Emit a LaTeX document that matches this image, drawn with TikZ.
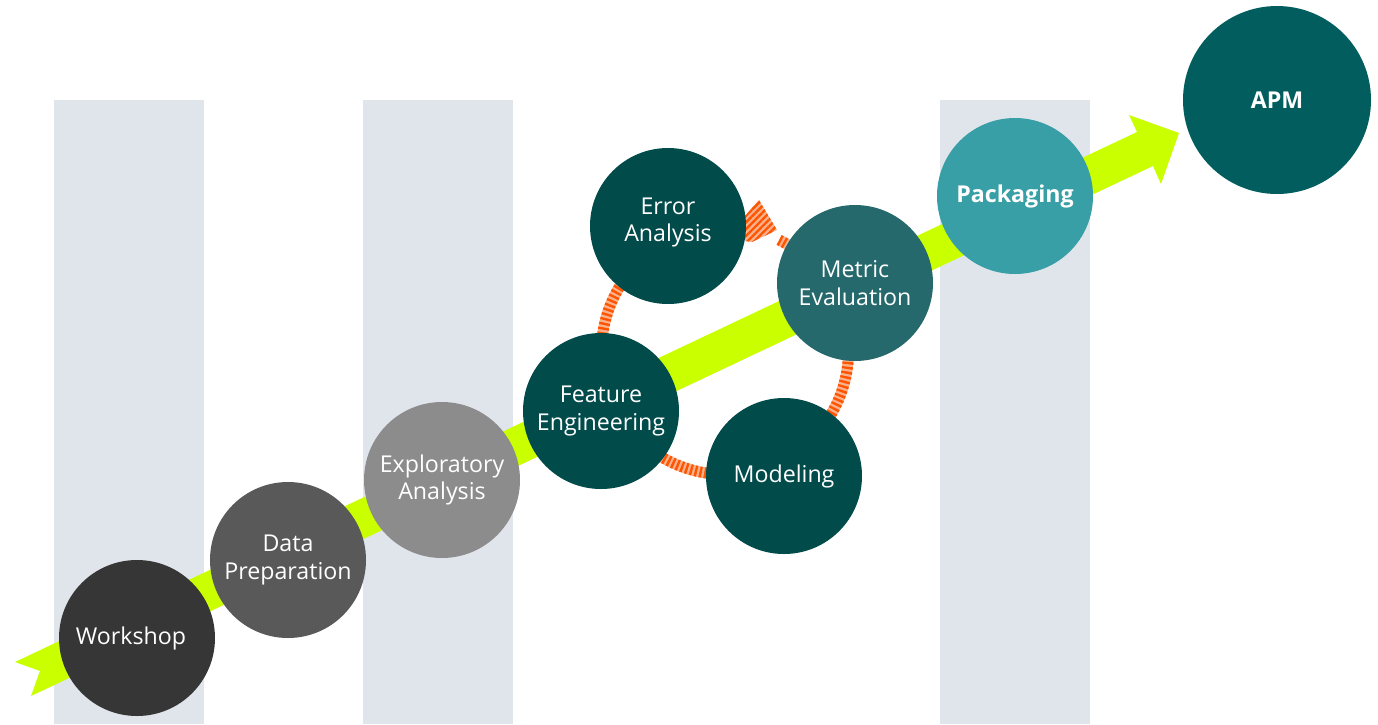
\documentclass[tikz,border=0pt]{standalone}
\usepackage{fontspec}
\setmainfont{Open Sans}
\usepackage{tikz}
\usetikzlibrary{patterns.meta,positioning}
\definecolor{lane}{RGB}{224,229,236}
\definecolor{trend}{RGB}{202,255,0}
\definecolor{coal}{RGB}{54,54,54}
\definecolor{slate}{RGB}{89,89,89}
\definecolor{ash}{RGB}{140,140,140}
\definecolor{deepteal}{RGB}{2,75,75}
\definecolor{midteal}{RGB}{38,105,108}
\definecolor{lightteal}{RGB}{55,159,165}
\definecolor{apmteal}{RGB}{2,94,94}
\definecolor{hatchdark}{RGB}{255,85,0}
\definecolor{hatchlight}{RGB}{250,178,142}

\begin{document}
\begin{tikzpicture}[x=0.5pt,y=-0.5pt,
    stage/.style={circle,minimum size=78pt,inner sep=0pt,text=white,
      align=center,font=\fontsize{11.6}{13.6}\selectfont},
    loopband/.style={line width=5.5pt}]
      \useasboundingbox (0,0) rectangle (1378,724);
      % swim lanes
      \foreach \x in {54,363,940}{
        \fill[lane](\x,100) rectangle ++(150,624);}
      % trend arrow
      \fill[trend](15,662)--(40,671)--(31,696)--(1153,166)--(1161,184)
        --(1179,133)--(1129,115)--(1137,132)--cycle;
      % iteration loop
      \coordinate (hub) at (725,351);
      \draw[loopband,hatchlight] plot[domain=-64:283,samples=160]
        ({725+123.5*cos(\x)},{351+123.5*sin(\x)});
      \draw[loopband,hatchdark,dash pattern=on 1.2pt off 1.2pt] plot[domain=-64:283,samples=160]
        ({725+123.5*cos(\x)},{351+123.5*sin(\x)});
      \path[fill=hatchlight,postaction={pattern={Lines[angle=45,distance=2.4pt,line width=1.2pt]},
        pattern color=hatchdark}]
        (745,216)--(759,200)--(777,230)--(752,242)--(745,241)--cycle;
      % stages
      \node[stage,fill=coal] (workshop) at (137,638){Workshop\kern6pt};
      \node[stage,fill=slate] (dataprep) at (288,560){Data\\Preparation};
      \node[stage,fill=ash] (explore) at (442,480){Exploratory\\Analysis};
      \node[stage,fill=deepteal] (feature) at (601,411){Feature\\Engineering};
      \node[stage,fill=deepteal] (error) at (668,226){Error\\Analysis\\[-7.6pt]};
      \node[stage,fill=midteal] (metric) at (855,283){Metric\\Evaluation};
      \node[stage,fill=deepteal] (modeling) at (784,476){Modeling};
      \node[stage,fill=lightteal,font=\fontsize{11.6}{13.6}\selectfont\bfseries] (packaging) at (1015,196){Packaging};
      \node[stage,fill=apmteal,minimum size=94pt,font=\fontsize{11.6}{13.6}\selectfont\bfseries] (apm) at (1277,100){APM};
    \end{tikzpicture}
\end{document}
